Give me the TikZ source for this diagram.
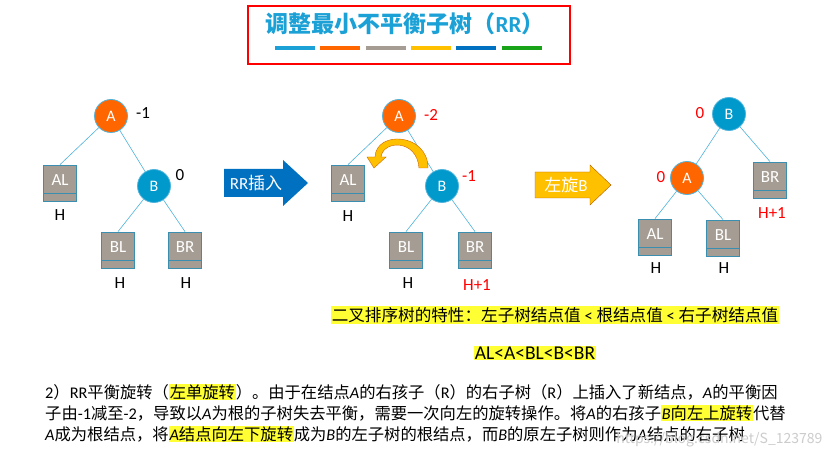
\documentclass[tikz,border=0pt]{standalone}
\usepackage{fontspec}
\setmainfont{Noto Sans CJK SC}
\newfontfamily\carl{Carlito}
\usetikzlibrary{arrows.meta}
\definecolor{tblue}{HTML}{1BA1D6}
\definecolor{norange}{HTML}{FF6600}
\definecolor{nblue}{HTML}{0099CC}
\definecolor{bgray}{HTML}{A59D93}
\definecolor{bedge}{HTML}{3A8FB0}
\definecolor{ledge}{HTML}{4FB3DC}
\definecolor{ablue}{HTML}{0070C0}
\definecolor{ayel}{HTML}{FFC000}
\definecolor{hlyel}{HTML}{FFFF33}
\newcommand\hl[1]{{\setlength\fboxsep{0.8pt}\colorbox{hlyel}{#1}}}
\newcommand\iA[1]{{\carl\itshape #1}}
\tikzset{
 cn/.style={circle,minimum size=33pt,inner sep=0,draw=ledge,thick,text=white,font=\carl\fontsize{16}{16}\selectfont},
 ca/.style={cn,fill=norange},
 cb/.style={cn,fill=nblue},
 bx/.style={rectangle,minimum width=33pt,minimum height=36pt,inner sep=0,draw=bedge,thick,fill=bgray,text=white,font=\carl\fontsize{17}{17}\selectfont,
   path picture={\draw[bedge,thick] ([yshift=8pt]path picture bounding box.south west)--([yshift=8pt]path picture bounding box.south east);}},
 ed/.style={ledge,semithick},
 lb/.style={font=\carl\fontsize{17}{17}\selectfont},
 rl/.style={lb,text=red},
}
\begin{document}
\begin{tikzpicture}[x=1pt,y=-1pt]
\useasboundingbox[fill=white] (0,0) rectangle (830,457);
% title
\draw[red,line width=2pt] (248,6) rectangle (570,64);
\node[text=tblue,font=\fontsize{23}{23}\selectfont\bfseries] (title) at (405,24) {调整最小不平衡子树（{\carl RR}）};
\foreach \x/\c in {275/tblue,320/norange,366/bgray,411/ayel,456/ablue,502/green!60!black!90}
  \fill[\c] (\x,46.5) rectangle ++(40,4);
% tree 1
\node[ca] (a1) at (111,116) {A};
\node[cb] (b1) at (154,186) {B};
\node[bx] (al1) at (60,183) {\raisebox{5pt}{AL}};
\node[bx] (bl1) at (118,250) {\raisebox{5pt}{BL}};
\node[bx] (br1) at (185,250) {\raisebox{5pt}{BR}};
\draw[ed] (a1)--(al1.north) (a1)--(b1) (b1)--(bl1.north) (b1)--(br1.north);
\node[lb] (f1) at (143,113) {-1};
\node[lb] (f2) at (180,175) {0};
\node[lb] (h1) at (60,215) {H};
\node[lb] (h2) at (120,283) {H};
\node[lb] (h3) at (186,283) {H};
% arrow 1
\fill[ablue] (224,169) -- (283,169) -- (283,160) -- (308,183) -- (283,206) -- (283,197) -- (224,197) -- cycle;
\node[text=white,font=\fontsize{17}{17}\selectfont] (ar1) at (256,183) {{\carl RR}插入};
% tree 2
\node[ca] (a2) at (399,116) {A};
\node[cb] (b2) at (442,186) {B};
\node[bx] (al2) at (348,183) {\raisebox{5pt}{AL}};
\node[bx] (bl2) at (406,250) {\raisebox{5pt}{BL}};
\node[bx] (br2) at (475,250) {\raisebox{5pt}{BR}};
\draw[ed] (a2)--(al2.north) (a2)--(b2) (b2)--(bl2.north) (b2)--(br2.north);
\node[rl] (f3) at (431,115) {-2};
\node[rl] (f4) at (469,176) {-1};
\node[lb] (h4) at (348,216) {H};
\node[lb] (h5) at (408,283) {H};
\node[rl] (h6) at (477,285) {H+1};
\fill[ayel,draw=orange!80!black,thin] (428,168) .. controls (428,133) and (376,130) .. (375,157) -- (367,157) -- (374,168) -- (386,157) -- (381,157) .. controls (383,140) and (417,139) .. (419,168) -- cycle;
% arrow 2
\fill[ayel,draw=orange!70!black,thin] (535,172) -- (590,172) -- (590,165) -- (611,185) -- (590,205) -- (590,198) -- (535,198) -- cycle;
\node[text=white,font=\fontsize{17}{17}\selectfont] (ar2) at (566,185) {左旋{\carl B}};
% tree 3
\node[cb] (b3) at (729,114) {B};
\node[ca] (a3) at (687,178) {A};
\node[bx] (br3) at (770,180) {\raisebox{5pt}{BR}};
\node[bx] (al3) at (655,237) {\raisebox{5pt}{AL}};
\node[bx] (bl3) at (723,238) {\raisebox{5pt}{BL}};
\draw[ed] (b3)--(a3) (b3)--(br3.north) (a3)--(al3.north) (a3)--(bl3.north);
\node[rl] (f5) at (700,113) {0};
\node[rl] (f6) at (661,177) {0};
\node[rl] (h7) at (772,213) {H+1};
\node[lb] (h8) at (656,268) {H};
\node[lb] (h9) at (724,268) {H};
% property
\node[font=\fontsize{16.6}{17}\selectfont,inner sep=0] (p1) at (555,315) {\hl{二叉排序树的特性：左子树结点值 {\carl<} 根结点值 {\carl<} 右子树结点值}};
\node[font=\carl\fontsize{19.5}{20}\selectfont,inner sep=0] (p2) at (535,353) {\hl{AL<A<BL<B<BR}};
% paragraph
\begin{scope}[every node/.style={anchor=west,inner sep=0,font=\fontsize{16.3}{17}\selectfont}]
\node (l1) at (45,392) {{\carl 2}）{\carl RR}平衡旋转（\hl{左单旋转}）。由于在结点\iA{A}的右孩子（{\carl R}）的右子树（{\carl R}）上插入了新结点，\iA{A}的平衡因};
\node (l2) at (45,413) {子由{\carl -1}减至{\carl -2}，导致以\iA{A}为根的子树失去平衡，需要一次向左的旋转操作。将\iA{A}的右孩子\hl{\iA{B}向左上旋转}代替};
\node (l3) at (45,434) {\iA{A}成为根结点，将\hl{\iA{A}结点向左下旋转}成为\iA{B}的左子树的根结点，而\iA{B}的原左子树则作为\iA{A}结点的右子树};
\end{scope}
\node[text=gray!40,font=\fontsize{14}{14}\selectfont,anchor=east] (wm) at (826,440) {https://blog.csdn.net/S\_123789};
\end{tikzpicture}
\end{document}
